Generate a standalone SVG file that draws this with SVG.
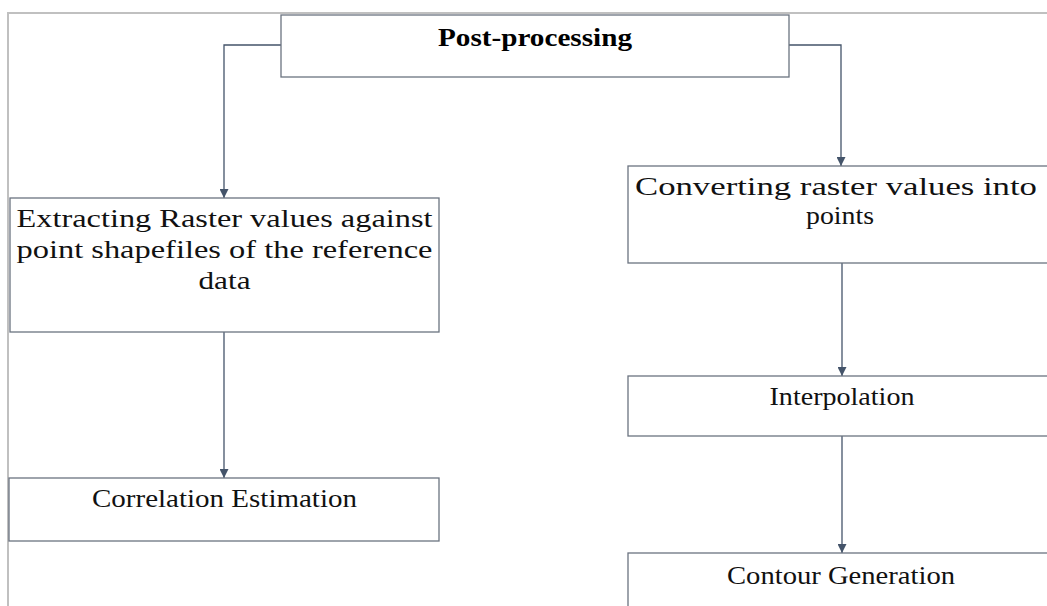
<svg xmlns="http://www.w3.org/2000/svg" width="1047" height="606" viewBox="0 0 1047 606">
<style>
.frame{stroke:#c0c0c0;stroke-width:2;fill:none}
.box{fill:#ffffff;stroke:#6b7380;stroke-width:1.3}
.conn{stroke:#44546a;stroke-width:1.3;fill:none}
.t{font-family:"Liberation Serif","Times New Roman",serif;font-size:26px;fill:#111111;text-anchor:middle}
.b{font-weight:bold;fill:#000000}
</style>
<defs>
<marker id="arr" viewBox="0 0 10 10" refX="10" refY="5" markerWidth="9" markerHeight="9" markerUnits="userSpaceOnUse" orient="auto">
<path d="M0,0 L10,5 L0,10 z" fill="#44546a"/>
</marker>
</defs>
<rect x="0" y="0" width="1047" height="606" fill="#ffffff"/>
<path class="frame" d="M8,606 V13 H1047"/>
<g id="connectors">
<path class="conn" d="M281,45 H224 V198" marker-end="url(#arr)"/>
<path class="conn" d="M789,45 H841 V166" marker-end="url(#arr)"/>
<path class="conn" d="M224,332 V478" marker-end="url(#arr)"/>
<path class="conn" d="M842,263 V376" marker-end="url(#arr)"/>
<path class="conn" d="M842,436 V553" marker-end="url(#arr)"/>
</g>
<g id="post-processing">
<rect class="box" x="281" y="15" width="508" height="62"/>
<text class="t b" x="535" y="46" textLength="194" lengthAdjust="spacingAndGlyphs">Post-processing</text>
</g>
<g id="extracting">
<rect class="box" x="10" y="198" width="429" height="134"/>
<text class="t" x="224.5" y="227" textLength="416" lengthAdjust="spacingAndGlyphs">Extracting Raster values against</text>
<text class="t" x="224.5" y="258" textLength="416" lengthAdjust="spacingAndGlyphs">point shapefiles of the reference</text>
<text class="t" x="224.5" y="289" textLength="52" lengthAdjust="spacingAndGlyphs">data</text>
</g>
<g id="correlation">
<rect class="box" x="9" y="478" width="430" height="63"/>
<text class="t" x="224.5" y="507" textLength="265" lengthAdjust="spacingAndGlyphs">Correlation Estimation</text>
</g>
<g id="converting">
<rect class="box" x="628" y="166" width="428" height="97"/>
<text class="t" x="836" y="195" textLength="402" lengthAdjust="spacingAndGlyphs">Converting raster values into</text>
<text class="t" x="840" y="224" textLength="68" lengthAdjust="spacingAndGlyphs">points</text>
</g>
<g id="interpolation">
<rect class="box" x="628" y="376" width="428" height="60"/>
<text class="t" x="842" y="405" textLength="145" lengthAdjust="spacingAndGlyphs">Interpolation</text>
</g>
<g id="contour">
<rect class="box" x="628" y="553" width="428" height="70"/>
<text class="t" x="841" y="584" textLength="228" lengthAdjust="spacingAndGlyphs">Contour Generation</text>
</g>
</svg>
